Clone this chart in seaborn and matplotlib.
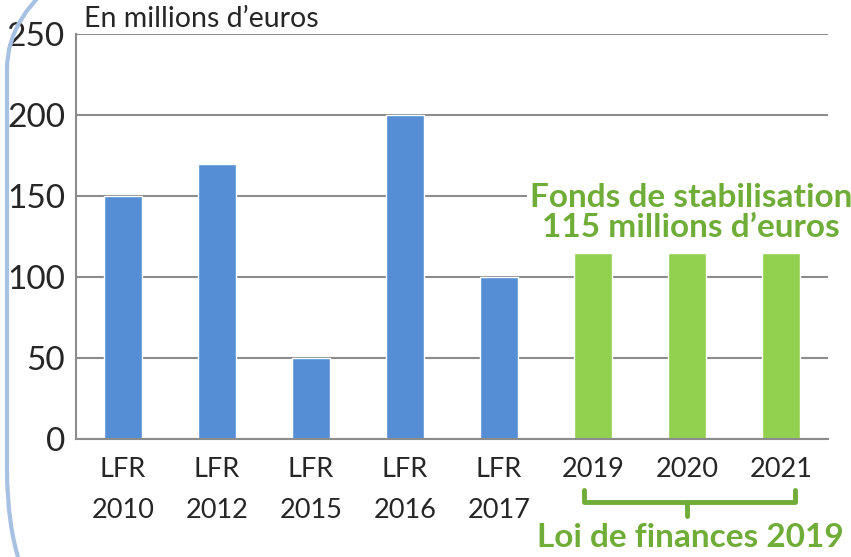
import numpy as np
import pandas as pd
import seaborn as sns
import matplotlib.pyplot as plt
import matplotlib.transforms as mtransforms
from matplotlib.patches import FancyBboxPatch

# chart values
categories = ["LFR\n2010", "LFR\n2012", "LFR\n2015", "LFR\n2016", "LFR\n2017", "2019", "2020", "2021"]
values = [150, 170, 50, 200, 100, 115, 115, 115]
groups = ["LFR"] * 5 + ["LF2019"] * 3

data = pd.DataFrame({"cat": categories, "val": values, "grp": groups})

blue = "#558ED5"
green_bar = "#92D050"
green_txt = "#6FAC38"
grid_col = "#8C8C8C"

sns.set_style("white")
plt.rcParams['font.family'] = ['Lato', 'DejaVu Sans']

fig = plt.figure(figsize=(8.51, 5.57), dpi=100)
ax = fig.add_axes([76 / 851, 1 - 439 / 557, 752 / 851, 405 / 557])

sns.barplot(data=data, x="cat", y="val", hue="grp",
            palette={"LFR": blue, "LF2019": green_bar},
            width=0.4, dodge=False, legend=False, saturation=1, ax=ax)

ax.set_ylim(0, 250)
ax.set_xlim(-0.5, len(categories) - 0.5)
ax.set_yticks([0, 50, 100, 150, 200, 250])
ax.yaxis.grid(True, color=grid_col, linewidth=1.5)
ax.set_axisbelow(True)
ax.set_xlabel("")
ax.set_ylabel("")

for s in ["top", "right"]:
    ax.spines[s].set_visible(False)
for s in ["left", "bottom"]:
    ax.spines[s].set_color(grid_col)
    ax.spines[s].set_linewidth(1.5)

ax.tick_params(axis="y", labelsize=24, length=6, width=1.5, color=grid_col, pad=2)
ax.tick_params(axis="x", which="major", labelsize=19.5, length=0, pad=13)
ax.set_xticks(np.arange(-0.5, len(categories)), minor=True)
ax.tick_params(axis="x", which="minor", length=7, width=1.5, color=grid_col)
for lab in ax.get_xticklabels():
    lab.set_linespacing(1.8)
    lab.set_verticalalignment("top")

ax.text(0.011, 1.005, "En millions d\u2019euros", transform=ax.transAxes,
        fontsize=20.5, ha="left", va="bottom")

ax.text(6.04, 140, "Fonds de stabilisation\n115 millions d\u2019euros", fontsize=24,
        fontweight="bold", color=green_txt, ha="center", va="center", linespacing=1.05,
        bbox=dict(facecolor="white", edgecolor="none", pad=2), zorder=5)

# bracket under 2019-2021
tr = mtransforms.blended_transform_factory(ax.transData, ax.transAxes)
y_top, y_mid, y_nub = -0.125, -0.155, -0.19
x0, x1, xm = 4.9, 7.15, 6.0
ax.plot([x0, x0, x1, x1], [y_top, y_mid, y_mid, y_top], transform=tr,
        color=green_txt, linewidth=3.5, clip_on=False, solid_joinstyle="round")
ax.plot([xm, xm], [y_mid, y_nub], transform=tr,
        color=green_txt, linewidth=3.5, clip_on=False)
ax.text(6.04, -0.242, "Loi de finances 2019", transform=tr, fontsize=24,
        fontweight="bold", color=green_txt, ha="center", va="center")

# rounded frame on the left
frame = FancyBboxPatch((7, -133), 1200, 841, boxstyle="round,pad=0,rounding_size=220",
                       transform=mtransforms.IdentityTransform(), fill=False,
                       edgecolor="#A7C1E3", linewidth=3)
fig.patches.append(frame)

fig.savefig("out.png", dpi=100)
